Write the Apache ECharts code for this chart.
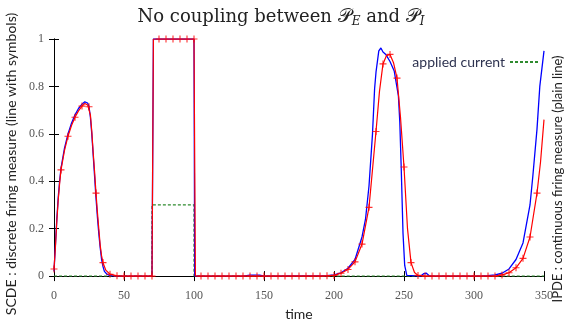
<!DOCTYPE html>
<html><head><meta charset="utf-8">
<script src="https://cdn.jsdelivr.net/npm/echarts@6/dist/echarts.min.js"></script>
<style>html,body{margin:0;padding:0;background:#fff}#c{width:566px;height:326px}</style>
</head><body><div id="c"></div>
<script>
// SCDE (discrete firing measure, red line with symbols)
const redT = [0,1,2,3,4,5,7.5,10,12.5,15,17.5,20,22,24,25,26,27,28,29,30,31,32,33,34,35,37,40,45,50,55,60,65,70,71,75,80,85,90,95,100,101,105,110,115,120,125,130,135,140,145,150,155,160,165,170,175,180,185,190,195,200,205,210,215,220,225,230,232.5,235,237.5,240,242.5,245,247.5,250,252.5,255,257.5,260,265,270,275,280,285,290,295,300,305,310,315,320,325,330,335,340,345,347.5,350];
const redV = [0.03,0.12,0.23,0.32,0.39,0.448,0.53,0.59,0.635,0.67,0.697,0.717,0.728,0.722,0.714,0.68,0.61,0.52,0.44,0.35,0.27,0.2,0.13,0.085,0.057,0.025,0.008,0.001,0,0,0,0,0,1,1,1,1,1,1,1,0,0,0,0,0,0,0,0,0,0,0,0,0,0,0,0,0,0,0,0.001,0.003,0.012,0.028,0.06,0.135,0.29,0.61,0.78,0.895,0.93,0.935,0.9,0.835,0.67,0.46,0.2,0.057,0.015,0.003,0,0,0,0,0,0,0,0,0,0,0,0.005,0.014,0.035,0.075,0.165,0.35,0.48,0.66];
// IPDE (continuous firing measure, blue plain line)
const blueT = [0,1,2,3,4,5,7.5,10,12.5,15,17.5,20,22,23,24,25,26,27,28,29,30,31,32,33,34,35,36,38,40,45,70,71,100,100.5,135,140,147,150,195,200,205,210,215,220,222.5,225,227.5,229,230,232,233.5,235,237,240,243,246,247,248,249.3,250.5,252,262,264,266,268,270,305,310,315,320,325,330,335,340,342,345,347,350];
const blueV = [0.02,0.13,0.24,0.33,0.4,0.455,0.54,0.6,0.645,0.68,0.707,0.725,0.735,0.737,0.73,0.715,0.67,0.6,0.51,0.42,0.33,0.25,0.18,0.12,0.07,0.04,0.02,0.007,0.002,0,0,1,1,0,0,0.004,0.004,0,0.002,0.005,0.014,0.033,0.07,0.165,0.24,0.38,0.6,0.79,0.86,0.95,0.962,0.945,0.935,0.905,0.865,0.76,0.65,0.46,0.18,0.045,0.003,0,0.01,0.012,0.002,0,0,0.002,0.005,0.012,0.03,0.07,0.14,0.3,0.42,0.62,0.8,0.95];
// applied current (green dashed)
const curT = [0,70,70,100,100,350];
const curV = [0,0,0.3,0.3,0,0];
const symbolStep = 5;
const symbolMax = 345;

const zip = (a,b)=>a.map((t,i)=>[t,b[i]]);
const redMarks = redT.map((t,i)=>[t,redV[i]]).filter(p=>p[0]%symbolStep===0 && p[0]<=symbolMax);
const plus = 'path://M4.2,0H5.8V4.2H10V5.8H5.8V10H4.2V5.8H0V4.2H4.2Z';
const tickFont = {fontFamily:'Liberation Serif', fontSize:12, color:'#555'};
const chart = echarts.init(document.getElementById('c'), null, {renderer:'canvas'});
chart.setOption({
  animation:false,
  backgroundColor:'#fff',
  title:{
    text:'No coupling between {p|𝒫}{s|E} and {p|𝒫}{s|I}',
    left:276, top:1, textAlign:'center',
    textStyle:{fontFamily:'DejaVu Serif', fontSize:18, fontWeight:'normal', color:'#222',
      rich:{p:{fontFamily:'DejaVu Serif', fontSize:19, color:'#222'}, s:{fontFamily:'DejaVu Serif', fontStyle:'italic', fontSize:12, color:'#222', padding:[10,0,0,0]}}}
  },
  legend:{
    data:[{name:'applied current', itemStyle:{opacity:0}}], right:22, top:50, align:'right', itemWidth:28, itemHeight:10, itemGap:4,
    textStyle:{fontFamily:'Lato', fontSize:14, color:'#2e3350'}
  },
  grid:{left:54, right:22, top:39, bottom:42},
  xAxis:[
    {type:'value', min:0, max:350, interval:50, position:'bottom',
     name:'time', nameLocation:'middle', nameGap:26, nameTextStyle:{fontFamily:'Lato', fontSize:14, color:'#222'},
     axisLine:{lineStyle:{color:'#000', width:1}}, axisTick:{inside:true, length:5, lineStyle:{color:'#000'}},
     axisLabel:Object.assign({margin:14}, tickFont), splitLine:{show:false}},
    {type:'value', min:0, max:350, interval:50, position:'top',
     axisLine:{lineStyle:{color:'#000', width:1}}, axisTick:{inside:true, length:5, lineStyle:{color:'#000'}},
     axisLabel:{show:false}, splitLine:{show:false}}
  ],
  yAxis:[
    {type:'value', min:0, max:1, interval:0.2, position:'left',
     axisLine:{show:true, lineStyle:{color:'#000', width:1}}, axisTick:{show:true, inside:true, length:5, lineStyle:{color:'#000'}},
     axisLabel:Object.assign({margin:10}, tickFont), splitLine:{show:false}},
    {type:'value', min:0, max:1, interval:0.2, position:'right',
     axisLine:{show:true, lineStyle:{color:'#000', width:1}}, axisTick:{show:true, inside:true, length:5, lineStyle:{color:'#000'}},
     axisLabel:{show:false}, splitLine:{show:false}}
  ],
  graphic:[
    {type:'text', x:11, y:164, rotation:Math.PI/2, style:{text:'SCDE : discrete firing measure (line with symbols)', fontFamily:'Lato', fontSize:14, fill:'#222', textAlign:'center', textVerticalAlign:'middle'}},
    {type:'text', x:558, y:179, rotation:Math.PI/2, style:{text:'IPDE : continuous firing measure (plain line)', fontFamily:'Lato', fontSize:13, fill:'#222', textAlign:'center', textVerticalAlign:'middle'}}
  ],
  series:[
    {name:'applied current', type:'line', data:zip(curT,curV), symbol:'none', z:1,
     lineStyle:{color:'#2e8b2e', width:1.2, type:[3,2]}, itemStyle:{color:'#2e8b2e'}},
    {name:'IPDE', type:'line', data:zip(blueT,blueV), symbol:'none', z:2,
     lineStyle:{color:'#0000ff', width:1.3}},
    {name:'SCDE', type:'line', data:zip(redT,redV), symbol:'none', z:3,
     lineStyle:{color:'#ff0000', width:1.2}},
    {name:'SCDE marks', type:'scatter', data:redMarks, symbol:plus, symbolSize:7, z:4,
     itemStyle:{color:'#ff0000'}}
  ]
});
</script></body></html>
